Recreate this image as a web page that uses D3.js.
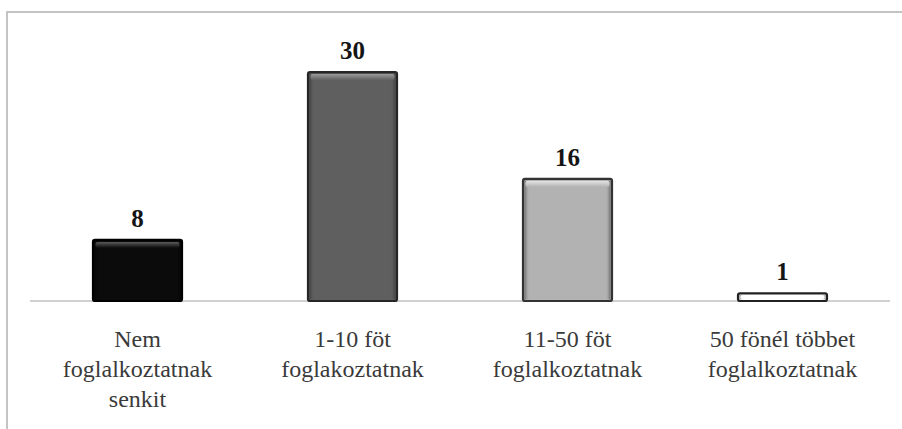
<!DOCTYPE html>
<html>
<head>
<meta charset="utf-8">
<script src="https://cdn.jsdelivr.net/npm/d3@7"></script>
<style>
  html, body { margin: 0; padding: 0; background: #fff; overflow: hidden; }
  svg { display: block; }
  .serif { font-family: "Liberation Serif", "Times New Roman", Tinos, "DejaVu Serif", serif; }
</style>
</head>
<body>
<script>
// ---- data ----
const categories = [
  ["Nem", "foglalkoztatnak", "senkit"],
  ["1-10 föt", "foglakoztatnak"],
  ["11-50 föt", "foglalkoztatnak"],
  ["50 fönél többet", "foglalkoztatnak"]
];
const values = [8, 30, 16, 1];
const fills = ["#0b0b0b", "#5f5f5f", "#b2b2b2", "#ffffff"];
const strokes = ["#000000", "#262626", "#333333", "#222222"];
const highlights = ["#5a5a5a", "#9a9a9a", "#e4e4e4", "#ffffff"];

const W = 902, H = 429;
const svg = d3.select("body").append("svg").attr("width", W).attr("height", H);

const defs = svg.append("defs");

// frame
svg.append("rect")
  .attr("x", 7).attr("y", 12).attr("width", 905).attr("height", 440)
  .attr("fill", "none").attr("stroke", "#c4c4c4").attr("stroke-width", 2);

const x = d3.scaleBand()
  .domain(d3.range(values.length))
  .range([30, 890])
  .paddingInner(0.586)
  .paddingOuter(0.293);

const y = d3.scaleLinear().domain([0, 35]).range([301, 301 - 35 * 7.63]);

// axis baseline
svg.append("line")
  .attr("x1", 30).attr("x2", 890)
  .attr("y1", y(0)).attr("y2", y(0))
  .attr("stroke", "#d0d0d0").attr("stroke-width", 2);

// gradients for bevel
values.forEach((v, i) => {
  const g = defs.append("linearGradient").attr("id", "hg" + i)
    .attr("x1", 0).attr("y1", 0).attr("x2", 0).attr("y2", 1);
  g.append("stop").attr("offset", "0%").attr("stop-color", highlights[i]);
  g.append("stop").attr("offset", "100%").attr("stop-color", fills[i]);
  const s = defs.append("linearGradient").attr("id", "sg" + i)
    .attr("x1", 0).attr("y1", 0).attr("x2", 1).attr("y2", 0);
  s.append("stop").attr("offset", "0%").attr("stop-color", strokes[i]).attr("stop-opacity", 0.55);
  s.append("stop").attr("offset", "6%").attr("stop-color", fills[i]).attr("stop-opacity", 0);
  s.append("stop").attr("offset", "94%").attr("stop-color", fills[i]).attr("stop-opacity", 0);
  s.append("stop").attr("offset", "100%").attr("stop-color", strokes[i]).attr("stop-opacity", 0.55);
});

const bars = svg.append("g").selectAll("g").data(values).join("g");

bars.append("rect")
  .attr("x", (d, i) => x(i))
  .attr("y", d => y(d))
  .attr("width", x.bandwidth())
  .attr("height", d => y(0) - y(d))
  .attr("rx", 2)
  .attr("fill", (d, i) => fills[i])
  .attr("stroke", (d, i) => strokes[i])
  .attr("stroke-width", 2.2);

// side shading
bars.append("rect")
  .attr("x", (d, i) => x(i) + 1.5)
  .attr("y", d => y(d) + 1.5)
  .attr("width", x.bandwidth() - 3)
  .attr("height", d => Math.max(0, y(0) - y(d) - 3))
  .attr("fill", (d, i) => `url(#sg${i})`);

// top highlight
bars.append("rect")
  .attr("x", (d, i) => x(i) + 2.5)
  .attr("y", d => y(d) + 2)
  .attr("width", x.bandwidth() - 5)
  .attr("height", d => Math.min(6, Math.max(0, y(0) - y(d) - 4)))
  .attr("rx", 2)
  .attr("fill", (d, i) => `url(#hg${i})`);

// value labels
svg.append("g").selectAll("text").data(values).join("text")
  .attr("class", "serif")
  .attr("x", (d, i) => x(i) + x.bandwidth() / 2)
  .attr("y", d => y(d) - 13)
  .attr("text-anchor", "middle")
  .attr("font-weight", "bold")
  .attr("font-size", 25)
  .attr("fill", "#151515")
  .text(d => d);

// category labels
const cat = svg.append("g").selectAll("text").data(categories).join("text")
  .attr("class", "serif")
  .attr("x", (d, i) => x(i) + x.bandwidth() / 2)
  .attr("y", 347)
  .attr("text-anchor", "middle")
  .attr("font-size", 24)
  .attr("fill", "#3a3a3a");
cat.selectAll("tspan").data(d => d).join("tspan")
  .attr("x", function () { return d3.select(this.parentNode).attr("x"); })
  .attr("dy", (d, j) => j === 0 ? 0 : 30)
  .text(d => d);
</script>
</body>
</html>
